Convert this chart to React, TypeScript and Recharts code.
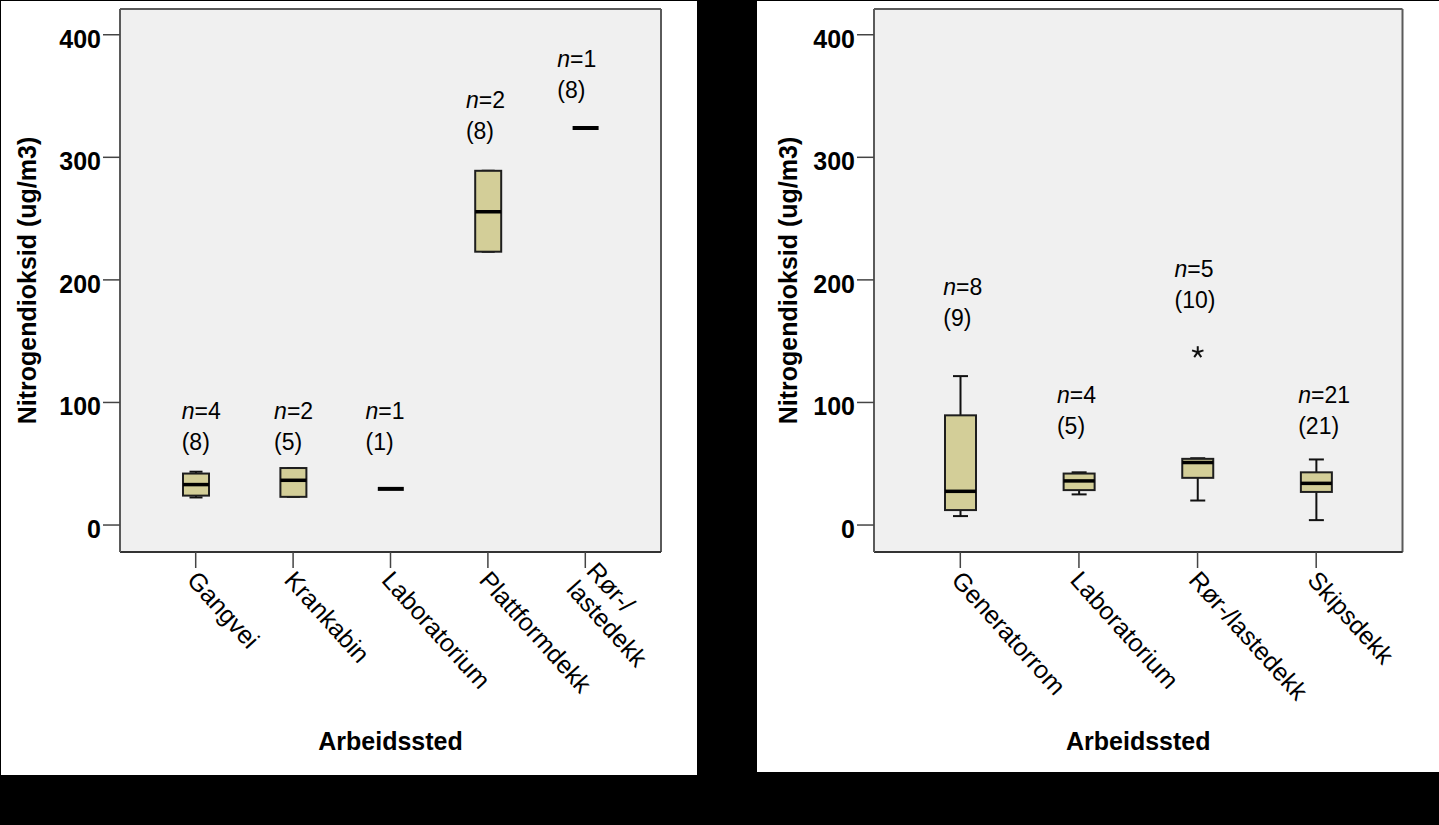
import React from "react";
import { ComposedChart, Bar, XAxis, YAxis, CartesianGrid, ReferenceDot } from "recharts";

// Left panel: first group of work places
const leftCategories = ["Gangvei", "Krankabin", "Laboratorium", "Plattformdekk", "Rør-/lastedekk"];
const leftMin = [22.5, 23, 29.5, 223, 324];
const leftQ1 = [24, 23, 29.5, 223, 324];
const leftMedian = [33, 36.5, 29.5, 255.5, 324];
const leftQ3 = [42, 46.5, 29.5, 289, 324];
const leftMax = [43.5, 46.5, 29.5, 289, 324];
const leftOutliers: number[][] = [[], [], [], [], []];
const leftN = [4, 2, 1, 2, 1];
const leftTotal = [8, 5, 1, 8, 8];

// Right panel
const rightCategories = ["Generatorrom", "Laboratorium", "Rør-/lastedekk", "Skipsdekk"];
const rightMin = [7.3, 25, 20, 4];
const rightQ1 = [12.2, 28.5, 38.5, 27];
const rightMedian = [27.5, 36, 51, 34];
const rightQ3 = [89.5, 42, 54, 43];
const rightMax = [121.5, 43, 54.5, 53.5];
const rightOutliers: number[][] = [[], [], [141], []];
const rightN = [8, 4, 5, 21];
const rightTotal = [9, 5, 10, 21];

const yTicks = [0, 100, 200, 300, 400];
const yDomain = [-22, 421];

// where the n=/(count) notes sit (value units for the first line, px offset from box centre)
const LEFT_NOTES = { dx: [-14, -19, -25, -22, -28], y: [86.5, 86.5, 86.5, 340, 373.5] };
const RIGHT_NOTES = { dx: [-17, -22, -23, -18], y: [187.6, 99.3, 202.6, 99.6] };

const FONT = '"Liberation Sans", Arial, sans-serif';
const BOX_FILL = "#d3ce98";

type Row = {
  name: string;
  min: number;
  q1: number;
  median: number;
  q3: number;
  max: number;
  outliers: number[];
  n: number;
  total: number;
  range: [number, number];
};

function buildRows(
  cats: string[],
  mins: number[],
  q1s: number[],
  meds: number[],
  q3s: number[],
  maxs: number[],
  outs: number[][],
  ns: number[],
  totals: number[]
): Row[] {
  return cats.map((name, i) => {
    const all = [mins[i], maxs[i], ...outs[i]];
    return {
      name,
      min: mins[i],
      q1: q1s[i],
      median: meds[i],
      q3: q3s[i],
      max: maxs[i],
      outliers: outs[i],
      n: ns[i],
      total: totals[i],
      range: [Math.min(...all), Math.max(...all)],
    };
  });
}

const leftRows = buildRows(leftCategories, leftMin, leftQ1, leftMedian, leftQ3, leftMax, leftOutliers, leftN, leftTotal);
const rightRows = buildRows(rightCategories, rightMin, rightQ1, rightMedian, rightQ3, rightMax, rightOutliers, rightN, rightTotal);

function Asterisk({ cx, cy }: { cx: number; cy: number }) {
  const arms = [-90, -18, 54, 126, 198];
  return (
    <g>
      {arms.map((a) => {
        const r = (a * Math.PI) / 180;
        return (
          <line key={a} x1={cx} y1={cy} x2={cx + 6 * Math.cos(r)} y2={cy + 6 * Math.sin(r)} stroke="#111" strokeWidth={2} />
        );
      })}
    </g>
  );
}

function BoxShape(props: any) {
  const { x, y, width, height, payload, capWidth } = props;
  const row: Row = payload;
  const [lo, hi] = row.range;
  const py = (v: number) => (hi === lo ? y + height / 2 : y + (height * (hi - v)) / (hi - lo));
  const cx = x + width / 2;

  if (row.min === row.max) {
    return <line x1={x} x2={x + width} y1={py(row.median)} y2={py(row.median)} stroke="#000" strokeWidth={4} />;
  }

  return (
    <g>
      <line x1={cx} x2={cx} y1={py(row.max)} y2={py(row.q3)} stroke="#111" strokeWidth={2} />
      <line x1={cx} x2={cx} y1={py(row.q1)} y2={py(row.min)} stroke="#111" strokeWidth={2} />
      <line x1={cx - capWidth / 2} x2={cx + capWidth / 2} y1={py(row.max)} y2={py(row.max)} stroke="#111" strokeWidth={2} />
      <line x1={cx - capWidth / 2} x2={cx + capWidth / 2} y1={py(row.min)} y2={py(row.min)} stroke="#111" strokeWidth={2} />
      <rect
        x={x}
        y={py(row.q3)}
        width={width}
        height={py(row.q1) - py(row.q3)}
        fill={BOX_FILL}
        stroke="#1e1e1e"
        strokeWidth={2}
      />
      <line x1={x} x2={x + width} y1={py(row.median)} y2={py(row.median)} stroke="#000" strokeWidth={3.5} />
      {row.outliers.map((o, i) => (
        <Asterisk key={i} cx={cx} cy={py(o)} />
      ))}
    </g>
  );
}

function Note({ cx, cy, dx, n, total }: { cx: number; cy: number; dx: number; n: number; total: number }) {
  return (
    <g>
      <text x={cx + dx} y={cy} fontSize={23} fill="#000" fontFamily={FONT}>
        <tspan fontStyle="italic">n</tspan>
        <tspan>={n}</tspan>
      </text>
      <text x={cx + dx} y={cy + 31} fontSize={23} fill="#000" fontFamily={FONT}>
        ({total})
      </text>
    </g>
  );
}

function YTick({ x, y, payload }: any) {
  return (
    <text x={x} y={y + 13} textAnchor="end" fontSize={25} fontWeight="bold" fill="#000" fontFamily={FONT}>
      {payload.value}
    </text>
  );
}

function XTick({ x, y, payload, wrap }: any) {
  const name: string = payload.value;
  const lines = wrap && name.includes("-/") ? [name.slice(0, name.indexOf("-/") + 2), name.slice(name.indexOf("-/") + 2)] : [name];
  const lh = 27;
  return (
    <g transform={`translate(${x - 10},${y + 13}) rotate(48)`}>
      {lines.map((l, i) => (
        <text key={i} x={0} y={(i - (lines.length - 1) / 2) * lh} fontSize={25} fill="#000" fontFamily={FONT}>
          {l}
        </text>
      ))}
    </g>
  );
}

type PanelProps = {
  rows: Row[];
  notes: { dx: number[]; y: number[] };
  width: number;
  yAxisWidth: number;
  marginRight: number;
  barSize: number;
  capWidth: number;
  titleX: number;
  wrap: boolean;
  pad: number;
};

function BoxPanel({ rows, notes, width, yAxisWidth, marginRight, barSize, capWidth, titleX, wrap, pad }: PanelProps) {
  const height = 775;
  const top = 9;
  const xAxisHeight = 223;
  const plotLeft = yAxisWidth;
  const plotRight = width - marginRight;
  const plotBottom = height - xAxisHeight;

  return (
    <ComposedChart
      width={width}
      height={height}
      data={rows}
      margin={{ top, right: marginRight, bottom: 0, left: 0 }}
      style={{ fontFamily: FONT }}
    >
      <CartesianGrid
        fill="#f0f0f0"
        stroke="#5a5a5a"
        strokeWidth={2}
        horizontalPoints={[top, plotBottom]}
        verticalPoints={[plotLeft, plotRight]}
      />
      <XAxis
        dataKey="name"
        type="category"
        height={xAxisHeight}
        padding={{ left: pad, right: pad }}
        tickSize={16}
        tickMargin={0}
        interval={0}
        axisLine={{ stroke: "#333", strokeWidth: 2 }}
        tickLine={{ stroke: "#444", strokeWidth: 1.5 }}
        tick={(p: any) => <XTick {...p} wrap={wrap} />}
        label={(p: any) => {
          const vb = p.viewBox;
          return (
            <text
              x={vb.x + vb.width / 2}
              y={vb.y + 198}
              textAnchor="middle"
              fontSize={25}
              fontWeight="bold"
              fill="#000"
              fontFamily={FONT}
            >
              Arbeidssted
            </text>
          );
        }}
      />
      <YAxis
        type="number"
        width={yAxisWidth}
        domain={yDomain}
        allowDataOverflow
        ticks={yTicks}
        interval={0}
        tickSize={17}
        tickMargin={2}
        axisLine={{ stroke: "#5a5a5a", strokeWidth: 2 }}
        tickLine={{ stroke: "#444", strokeWidth: 1.5 }}
        tick={YTick}
        label={(p: any) => {
          const vb = p.viewBox;
          const cy = vb.y + vb.height / 2;
          return (
            <text
              transform={`translate(${titleX},${cy}) rotate(-90)`}
              textAnchor="middle"
              fontSize={25}
              fontWeight="bold"
              fill="#000"
              fontFamily={FONT}
            >
              Nitrogendioksid (ug/m3)
            </text>
          );
        }}
      />
      <Bar
        dataKey="range"
        barSize={barSize}
        isAnimationActive={false}
        shape={(p: any) => <BoxShape {...p} capWidth={capWidth} />}
      />
      {rows.map((r, i) => (
        <ReferenceDot
          key={r.name}
          x={r.name}
          y={notes.y[i]}
          r={0}
          shape={(p: any) => <Note cx={p.cx} cy={p.cy} dx={notes.dx[i]} n={r.n} total={r.total} />}
        />
      ))}
    </ComposedChart>
  );
}

export default function App() {
  return (
    <div
      style={{
        position: "absolute",
        left: 0,
        top: 0,
        width: 1439,
        height: 825,
        background: "#000",
        fontFamily: FONT,
        overflow: "hidden",
      }}
    >
      <div style={{ position: "absolute", left: 1, top: 1, width: 696, height: 774, background: "#fff" }} />
      <div style={{ position: "absolute", left: 757, top: 1, width: 682, height: 771, background: "#fff" }} />
      <div style={{ position: "absolute", left: 0, top: 0 }}>
        <BoxPanel
          rows={leftRows}
          notes={LEFT_NOTES}
          width={697}
          yAxisWidth={120}
          marginRight={36}
          barSize={26}
          capWidth={13}
          titleX={36}
          wrap={true}
          pad={27}
        />
      </div>
      <div style={{ position: "absolute", left: 757, top: 0 }}>
        <BoxPanel
          rows={rightRows}
          notes={RIGHT_NOTES}
          width={682}
          yAxisWidth={117}
          marginRight={36.5}
          barSize={31}
          capWidth={15}
          titleX={40}
          wrap={false}
          pad={27}
        />
      </div>
    </div>
  );
}
